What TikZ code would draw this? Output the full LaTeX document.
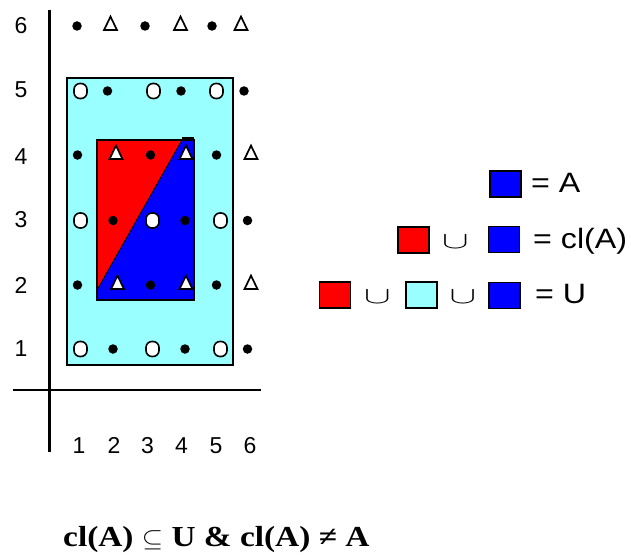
\documentclass[tikz,border=0pt]{standalone}
\usepackage{fontspec}
\usepackage{graphicx}
\setmainfont{Liberation Serif}
\newfontfamily\ariala{Liberation Sans}
\newfontfamily\arialw[FakeStretch=1.15]{Liberation Sans}
\newfontfamily\timesw[FakeStretch=1.15]{Liberation Serif}
\usetikzlibrary{shapes.geometric}
\definecolor{cyanl}{HTML}{99FFFF}
\definecolor{redA}{HTML}{FF0000}
\definecolor{blueA}{HTML}{0000FF}
\tikzset{
  dotm/.style={circle, fill=black, inner sep=0pt, minimum size=9.5pt},
  trim/.style={isosceles triangle, isosceles triangle stretches, shape border rotate=90,
    draw=black, fill=white, line width=1.7pt, inner sep=0pt, minimum width=13pt, minimum height=13.5pt},
  ovm/.style={rectangle, rounded corners=6pt, draw=black, fill=white, line width=1.6pt,
    inner sep=0pt, minimum width=13pt, minimum height=15pt},
  axlab/.style={font=\ariala\fontsize{23}{23}\selectfont, inner sep=0pt, anchor=base},
  lsq/.style={draw=black, line width=1.2pt, minimum width=31pt, minimum height=26pt, inner sep=0pt},
  legtxt/.style={anchor=base west, inner sep=0pt, font=\arialw\fontsize{28}{28}\selectfont},
  cupn/.style={inner sep=0pt, font=\fontsize{28}{28}\selectfont}
}
\newcommand{\cupsym}{\scalebox{1.6}[0.95]{$\cup$}}
\begin{document}
\begin{tikzpicture}[x=1pt,y=-1pt]
\useasboundingbox (0,0) rectangle (631,559);
\fill[white] (0,0) rectangle (631,559);
% sets
\draw[fill=cyanl, line width=1.5pt] (67,78) rectangle (233,365);
\fill[redA] (97,140) -- (182,140) -- (97,290) -- cycle;
\fill[blueA] (182,140) -- (194,140) -- (194,300) -- (97,300) -- (97,290) -- cycle;
\draw[line width=1.5pt] (97,140) rectangle (194,300);
\draw[line width=0.8pt] (182,140) -- (97,290);
\draw[line width=3pt] (182,138.5) -- (194,138.5);
% axes
\draw[line width=2.2pt] (49.5,10) -- (49.5,452);
\draw[line width=2pt] (13,390) -- (261,390);
% axis labels
\foreach \n/\yy in {6/34,5/98,4/164,3/227,2/293,1/356}
  \node[axlab] (ylab\n) at (21,\yy) {\n};
\foreach \n/\xx in {1/79,2/114,3/147.5,4/181.5,5/216,6/250}
  \node[axlab] (xlab\n) at (\xx,453) {\n};
% row 6
\node[dotm] (r6a) at (77,26) {};
\node[trim] (r6b) at (110.5,26) {};
\node[dotm] (r6c) at (145,26) {};
\node[trim] (r6d) at (180.5,26) {};
\node[dotm] (r6e) at (212,26) {};
\node[trim] (r6f) at (241,26) {};
% row 5
\node[ovm] (r5a) at (80.5,91) {};
\node[dotm] (r5b) at (107.5,91) {};
\node[ovm] (r5c) at (153.5,91) {};
\node[dotm] (r5d) at (181,91) {};
\node[ovm] (r5e) at (216.5,91) {};
\node[dotm] (r5f) at (244,91) {};
% row 4
\node[dotm] (r4a) at (77.5,155) {};
\node[trim] (r4b) at (116,155) {};
\node[dotm] (r4c) at (150.5,155) {};
\node[trim] (r4d) at (186,155) {};
\node[dotm] (r4e) at (216.5,155) {};
\node[trim] (r4f) at (251,155) {};
% row 3
\node[ovm] (r3a) at (80.5,220.5) {};
\node[dotm] (r3b) at (113,220.5) {};
\node[ovm] (r3c) at (152.5,220.5) {};
\node[dotm] (r3d) at (185,220.5) {};
\node[ovm] (r3e) at (220.5,220.5) {};
\node[dotm] (r3f) at (247.5,220.5) {};
% row 2
\node[dotm] (r2a) at (77.5,285) {};
\node[trim] (r2b) at (117.5,285) {};
\node[dotm] (r2c) at (150.5,285) {};
\node[trim] (r2d) at (186,285) {};
\node[dotm] (r2e) at (216.5,285) {};
\node[trim] (r2f) at (251,285) {};
% row 1
\node[ovm] (r1a) at (80.5,349) {};
\node[dotm] (r1b) at (113,349) {};
\node[ovm] (r1c) at (152.5,349) {};
\node[dotm] (r1d) at (185,349) {};
\node[ovm] (r1e) at (220.5,349) {};
\node[dotm] (r1f) at (247.5,349) {};
% legend
\node[lsq, fill=blueA] (l1b) at (505.5,184) {};
\node[legtxt] (l1t) at (531,192) {= A};
\node[lsq, fill=redA] (l2r) at (413.5,240) {};
\node[cupn] (l2u) at (455.5,242) {\cupsym};
\node[lsq, fill=blueA] (l2b) at (504,239.5) {};
\node[legtxt] (l2t) at (533,248) {= cl(A)};
\node[lsq, fill=redA] (l3r) at (335,295) {};
\node[cupn] (l3u1) at (377.5,296.5) {\cupsym};
\node[lsq, fill=cyanl] (l3c) at (421.5,295) {};
\node[cupn] (l3u2) at (463,296.5) {\cupsym};
\node[lsq, fill=blueA] (l3b) at (504.5,295.5) {};
\node[legtxt] (l3t) at (535,303) {= U};
% claim
\node[anchor=base west, inner sep=0pt] (claim) at (63,546)
  {\timesw\fontsize{29}{29}\selectfont\bfseries cl(A) \scalebox{1.1}[1]{$\subseteq$} U \& cl(A) ≠ A};
\end{tikzpicture}
\end{document}
